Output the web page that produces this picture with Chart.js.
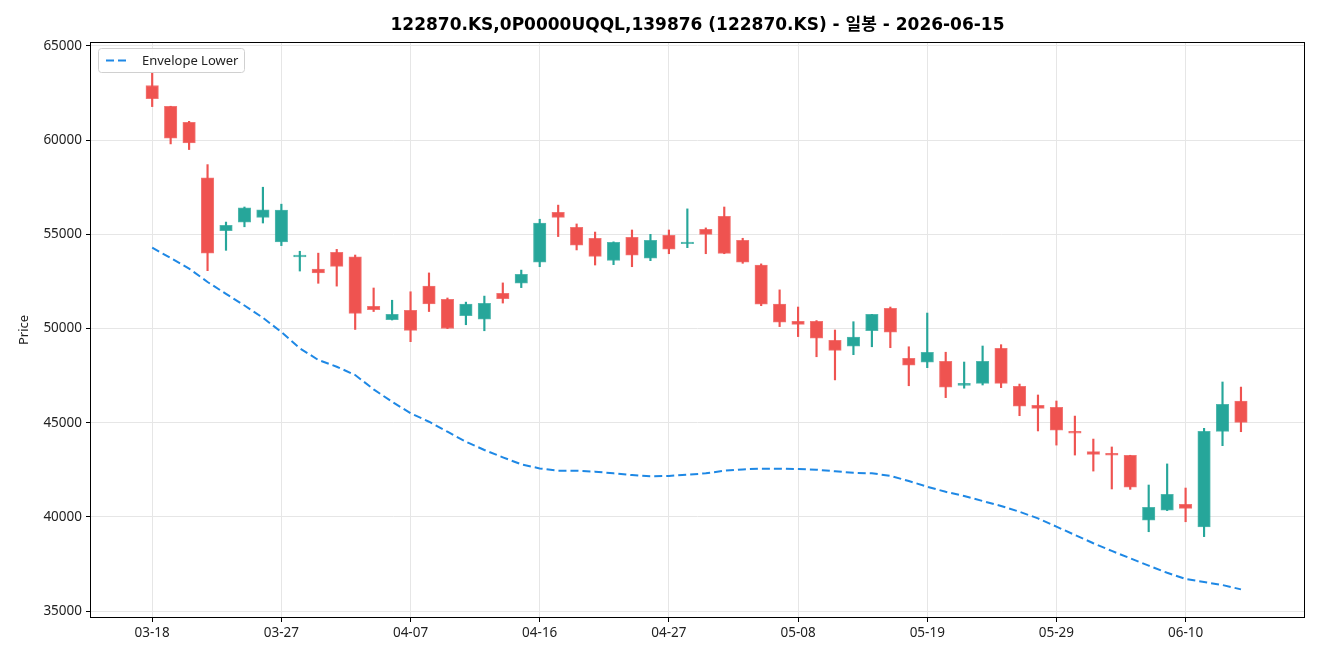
<!DOCTYPE html>
<html>
<head>
<meta charset="utf-8">
<script src="https://cdn.jsdelivr.net/npm/chart.js@4.4.0/dist/chart.umd.min.js"></script>
<style>
  html, body { margin: 0; padding: 0; background: #fff; }
  #wrap { width: 1320px; height: 660px; }
</style>
</head>
<body>
<div id="wrap"><canvas id="chart" width="1320" height="660"></canvas></div>
<script>
const dates = ["03-18","03-19","03-20","03-23","03-24","03-25","03-26","03-27","03-30","03-31",
  "04-01","04-02","04-03","04-06","04-07","04-08","04-09","04-10","04-13","04-14",
  "04-15","04-16","04-17","04-20","04-21","04-22","04-23","04-24","04-27","04-28",
  "04-29","04-30","05-04","05-06","05-07","05-08","05-11","05-12","05-13","05-14",
  "05-15","05-18","05-19","05-20","05-21","05-22","05-26","05-27","05-28","05-29",
  "06-01","06-02","06-04","06-05","06-08","06-09","06-10","06-11","06-12","06-15"];

const opens = [62900,61800,60950,58000,55200,55650,55900,54600,53800,53150,
  54050,53800,51180,50470,50970,52250,51550,50680,50490,51870,
  52400,53520,56170,55370,54790,53620,54840,53730,54950,54500,
  55270,55960,54680,53360,51290,50380,50380,49370,49060,49880,
  51070,48420,48210,48260,46980,47090,48950,46930,45920,45820,
  44540,43460,43370,43270,39820,40350,40670,39460,44540,46140];
const highs = [63550,61800,61000,58700,55650,56450,57500,56600,54100,54000,
  54200,53900,52150,51500,51950,52950,51620,51400,51720,52420,
  53100,55800,56550,55550,55120,54600,55230,55000,55230,56350,
  55340,56450,54790,53430,52050,51140,50420,49920,50360,50750,
  51140,49030,50820,48740,48220,49070,49140,47050,46470,46150,
  45350,44130,43710,43270,41690,42810,41530,44700,47160,46890];
const lows = [61780,59800,59500,53070,54150,55400,55600,54400,53050,52400,
  52250,49950,50900,50450,49300,50900,49990,50200,49880,51350,
  52170,53280,54880,54170,53370,53390,53280,53600,53970,54290,
  53970,53970,53460,51210,50100,49570,48500,47270,48610,49030,
  48980,46960,47920,46330,46830,47000,46860,45370,44560,43810,
  43280,42430,41480,41460,39210,40330,39740,38950,43780,44520];
const closes = [62200,60100,59850,54000,55480,56400,56300,56280,53900,52950,
  53300,50800,51000,50750,49900,51300,50000,51290,51340,51580,
  52880,55590,55900,54420,53830,54580,53890,54680,54210,54590,
  55000,53990,53520,51290,50330,50220,49480,48840,49550,50750,
  49800,48050,48740,46880,47090,48260,47090,45870,45760,44600,
  44440,43320,43270,41570,40510,41200,40450,44540,45980,45020];
const envLower = [54290,53740,53180,52470,51840,51220,50570,49810,48950,48330,
  47970,47530,46770,46110,45500,45050,44520,43990,43550,43160,
  42790,42570,42450,42450,42400,42310,42220,42150,42170,42240,
  42310,42450,42520,42560,42560,42540,42500,42420,42340,42310,
  42180,41900,41600,41330,41110,40840,40580,40270,39920,39480,
  39040,38600,38190,37800,37410,37030,36700,36540,36380,36150];

const xTicks = [0, 7, 14, 21, 28, 35, 42, 49, 56];
const yTicks = [35000, 40000, 45000, 50000, 55000, 60000, 65000];

const titleText = "122870.KS,0P0000UQQL,139876 (122870.KS) - 일봉 - 2026-06-15";

const UP = "#26a69a";
const DOWN = "#ef5350";
const FONT = '"Noto Sans", "Noto Sans CJK KR", sans-serif';

const candleColor = opens.map((o, i) => (closes[i] >= o ? UP : DOWN));

// title over the plot area, frame around the plot, legend box inside (top-left)
const framePlugin = {
  id: "frame",
  afterDraw(chart) {
    const { ctx, chartArea: a } = chart;
    ctx.save();

    ctx.fillStyle = "#000";
    ctx.font = 'bold 17px "DejaVu Sans", "Noto Sans CJK KR", sans-serif';
    ctx.textAlign = "center";
    ctx.textBaseline = "middle";
    ctx.fillText(titleText, (a.left + a.right) / 2, 26);

    ctx.strokeStyle = "#000";
    ctx.lineWidth = 1;
    ctx.strokeRect(Math.round(a.left) + 0.5, Math.round(a.top) + 0.5,
      Math.round(a.right - a.left) - 1, Math.round(a.bottom - a.top) - 1);

    const ds = chart.data.datasets[2];
    const bx = a.left + 8, by = a.top + 6, bw = 146, bh = 24;
    ctx.fillStyle = "rgba(255,255,255,0.85)";
    ctx.strokeStyle = "#d0d0d0";
    ctx.beginPath();
    ctx.roundRect(bx + 0.5, by + 0.5, bw, bh, 3);
    ctx.fill();
    ctx.stroke();

    ctx.strokeStyle = ds.borderColor;
    ctx.lineWidth = 2;
    ctx.setLineDash([8, 4]);
    ctx.beginPath();
    ctx.moveTo(bx + 8, by + bh / 2 + 0.5);
    ctx.lineTo(bx + 32, by + bh / 2 + 0.5);
    ctx.stroke();
    ctx.setLineDash([]);

    ctx.fillStyle = "#222";
    ctx.font = "13px " + FONT;
    ctx.textAlign = "left";
    ctx.fillText(ds.label, bx + 44, by + bh / 2 + 1);
    ctx.restore();
  }
};

new Chart(document.getElementById("chart"), {
  type: "bar",
  data: {
    datasets: [
      {
        label: "wick",
        data: dates.map((d, i) => ({ x: i, y: [lows[i], highs[i]] })),
        backgroundColor: candleColor,
        barThickness: 1.5,
        grouped: false,
        order: 2
      },
      {
        label: "body",
        data: dates.map((d, i) => ({ x: i, y: [opens[i], closes[i]] })),
        backgroundColor: candleColor,
        borderColor: candleColor.map(c => c + "cc"),
        borderWidth: 1,
        borderSkipped: false,
        barThickness: 12.5,
        minBarLength: 1,
        grouped: false,
        order: 1
      },
      {
        type: "line",
        label: "Envelope Lower",
        data: dates.map((d, i) => ({ x: i, y: envLower[i] })),
        borderColor: "#1e88e5",
        borderWidth: 2,
        borderDash: [8, 4],
        pointRadius: 0,
        fill: false,
        tension: 0,
        order: 0
      }
    ]
  },
  options: {
    responsive: false,
    animation: false,
    layout: { padding: { left: 0, right: 15, top: 42, bottom: 0 } },
    plugins: {
      legend: { display: false },
      tooltip: { enabled: false },
      title: { display: false }
    },
    scales: {
      x: {
        type: "linear",
        offset: false,
        min: -3.37,
        max: 62.47,
        afterBuildTicks: (axis) => { axis.ticks = xTicks.map(v => ({ value: v })); },
        afterFit: (s) => { s.height = 42; },
        ticks: {
          color: "#222",
          font: { family: FONT, size: 13.5 },
          padding: 3,
          maxRotation: 0,
          autoSkip: false,
          callback: (v) => dates[v] ?? ""
        },
        grid: { offset: false, color: "#e6e6e6", tickColor: "#000", tickLength: 4 },
        border: { display: false }
      },
      y: {
        min: 34630,
        max: 65210,
        afterBuildTicks: (axis) => { axis.ticks = yTicks.map(v => ({ value: v })); },
        afterFit: (s) => { s.width = 90; },
        ticks: {
          color: "#222",
          font: { family: FONT, size: 13.5 },
          padding: 4,
          callback: (v) => String(v)
        },
        grid: { color: "#e6e6e6", tickColor: "#000", tickLength: 4 },
        border: { display: false },
        title: {
          display: true,
          text: "Price",
          color: "#222",
          font: { family: FONT, size: 13 },
          padding: { top: 16, bottom: 0 }
        }
      }
    }
  },
  plugins: [framePlugin]
});
</script>
</body>
</html>
